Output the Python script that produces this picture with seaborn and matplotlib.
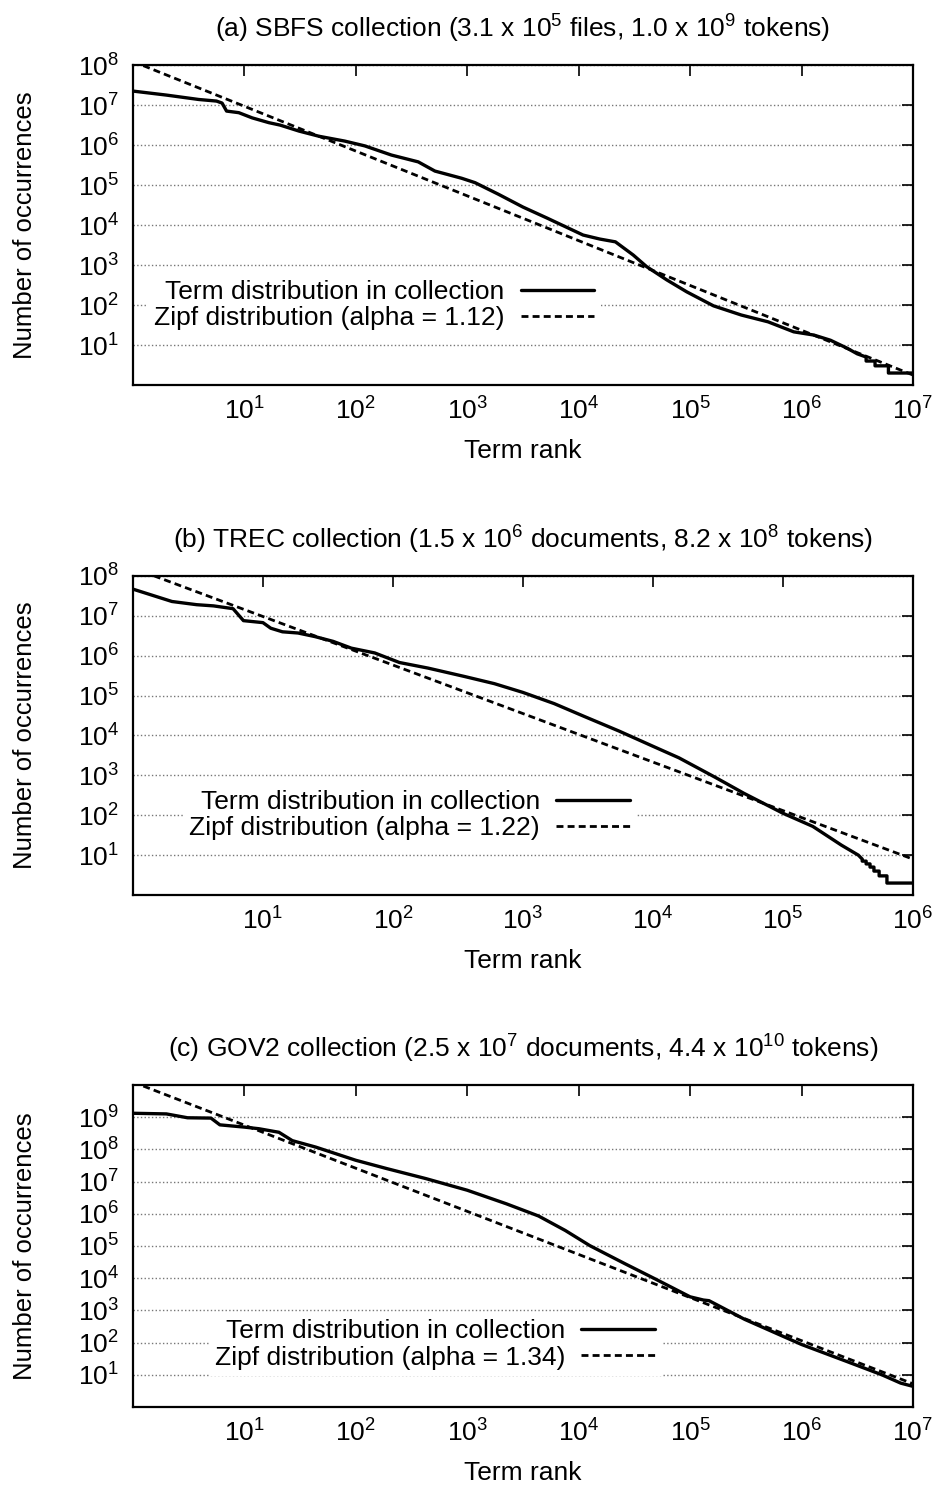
import numpy as np
import pandas as pd
import matplotlib
matplotlib.use('Agg')
import matplotlib.pyplot as plt
import seaborn as sns
from matplotlib.ticker import FixedLocator, LogFormatterSciNotation, NullLocator

# values are log10(term rank) / log10(occurrences)
# (a) SBFS collection
sbfs_rank = [0, 0.30, 0.59, 0.75, 0.80, 0.84, 0.95, 1.07, 1.22, 1.32, 1.49, 1.67, 1.90,
             2.08, 2.32, 2.56, 2.71, 2.95, 3.07, 3.28, 3.50, 3.72, 3.88, 4.04, 4.19,
             4.33, 4.49, 4.61, 4.79, 4.97, 5.21, 5.46, 5.70, 5.93, 6.11, 6.26, 6.41,
             6.50, 6.58, 6.58, 6.66, 6.66, 6.78, 6.78, 7.0]
sbfs_count = [7.35, 7.25, 7.14, 7.10, 7.05, 6.85, 6.81, 6.68, 6.56, 6.50, 6.35, 6.22, 6.10,
              5.98, 5.75, 5.58, 5.35, 5.17, 5.06, 4.77, 4.45, 4.17, 3.96, 3.75, 3.65,
              3.58, 3.25, 2.96, 2.63, 2.33, 1.98, 1.75, 1.58, 1.33, 1.25, 1.12, 0.92,
              0.78, 0.70, 0.60, 0.60, 0.48, 0.48, 0.30, 0.30]
sbfs_zipf_rank = [0, 7]
sbfs_zipf_count = [8.09, 0.25]

# (b) TREC collection
trec_rank = [0, 0.30, 0.49, 0.62, 0.77, 0.85, 1.0, 1.06, 1.15, 1.27, 1.40, 1.54, 1.68,
             1.86, 2.05, 2.27, 2.55, 2.78, 3.0, 3.24, 3.47, 3.74, 4.0, 4.2, 4.48, 4.7,
             5.0, 5.23, 5.45, 5.58, 5.61, 5.61, 5.64, 5.64, 5.67, 5.67, 5.70, 5.70,
             5.74, 5.74, 5.80, 5.80, 6.0]
trec_count = [7.67, 7.36, 7.28, 7.25, 7.18, 6.88, 6.83, 6.69, 6.60, 6.57, 6.48, 6.36, 6.19,
              6.07, 5.83, 5.69, 5.48, 5.30, 5.08, 4.80, 4.48, 4.11, 3.73, 3.44, 2.95, 2.55,
              2.05, 1.72, 1.25, 1.0, 0.90, 0.85, 0.85, 0.78, 0.78, 0.70, 0.70, 0.60,
              0.60, 0.48, 0.48, 0.30, 0.30]
trec_zipf_rank = [0, 6]
trec_zipf_count = [8.20, 0.90]

# (c) GOV2 collection
gov2_rank = [0, 0.30, 0.49, 0.70, 0.78, 1.0, 1.13, 1.31, 1.43, 1.64, 2.0, 2.28, 2.63,
             3.0, 3.35, 3.64, 3.88, 4.1, 4.42, 4.69, 5.0, 5.12, 5.17, 5.49, 6.0, 6.4,
             6.72, 6.89, 7.0]
gov2_count = [9.12, 9.10, 8.98, 8.97, 8.76, 8.69, 8.64, 8.53, 8.27, 8.07, 7.66, 7.40, 7.09,
              6.73, 6.31, 5.93, 5.48, 5.01, 4.44, 3.97, 3.42, 3.32, 3.30, 2.72, 1.94, 1.42,
              1.00, 0.74, 0.64]
gov2_zipf_rank = [0, 7]
gov2_zipf_count = [10.09, 0.72]

titles = ['(a) SBFS collection (3.1 x 10$^{5}$ files, 1.0 x 10$^{9}$ tokens)',
          '(b) TREC collection (1.5 x 10$^{6}$ documents, 8.2 x 10$^{8}$ tokens)',
          '(c) GOV2 collection (2.5 x 10$^{7}$ documents, 4.4 x 10$^{10}$ tokens)']
alphas = ['1.12', '1.22', '1.34']

sns.set_theme(style='white')
plt.rcParams['font.family'] = ['Liberation Sans', 'DejaVu Sans']
plt.rcParams['mathtext.fontset'] = 'custom'
plt.rcParams['mathtext.rm'] = 'Liberation Sans'
plt.rcParams['mathtext.it'] = 'Liberation Sans'
plt.rcParams['mathtext.bf'] = 'Liberation Sans:bold'
plt.rcParams['text.color'] = 'black'
plt.rcParams['axes.labelcolor'] = 'black'
plt.rcParams['axes.titlecolor'] = 'black'

FS = 19

panels = [
    (sbfs_rank, sbfs_count, sbfs_zipf_rank, sbfs_zipf_count, 7, 8, [0.1422, 0.7409, 0.8342, 0.2153], (0.617, 0.25)),
    (trec_rank, trec_count, trec_zipf_rank, trec_zipf_count, 6, 8, [0.1422, 0.3977, 0.8342, 0.2147], (0.662, 0.251)),
    (gov2_rank, gov2_count, gov2_zipf_rank, gov2_zipf_count, 7, 10, [0.1422, 0.0532, 0.8342, 0.2167], (0.695, 0.194)),
]

fig = plt.figure(figsize=(9.35, 14.86), dpi=100)

for i, (r, c, zr, zc, xmax, ymax, pos, leg_at) in enumerate(panels):
    ax = fig.add_axes(pos)
    df = pd.DataFrame({'rank': 10 ** np.array(r), 'count': 10 ** np.array(c)})
    zdf = pd.DataFrame({'rank': 10 ** np.array(zr, dtype=float), 'count': 10 ** np.array(zc)})

    sns.lineplot(data=df, x='rank', y='count', ax=ax, color='black', linewidth=2.4,
                 estimator=None, sort=False, label='Term distribution in collection')
    sns.lineplot(data=zdf, x='rank', y='count', ax=ax, color='black', linewidth=2.0,
                 estimator=None, sort=False, linestyle=(0, (2.5, 1.5)),
                 label='Zipf distribution (alpha = %s)' % alphas[i])

    ax.set_xscale('log')
    ax.set_yscale('log')
    ax.set_xlim(1, 10 ** xmax)
    ax.set_ylim(1, 10 ** ymax)

    top_tick = ymax if ymax == 8 else ymax - 1
    ax.xaxis.set_major_locator(FixedLocator([10.0 ** k for k in range(1, xmax + 1)]))
    ax.yaxis.set_major_locator(FixedLocator([10.0 ** k for k in range(1, top_tick + 1)]))
    ax.xaxis.set_major_formatter(LogFormatterSciNotation())
    ax.yaxis.set_major_formatter(LogFormatterSciNotation())
    ax.xaxis.set_minor_locator(NullLocator())
    ax.yaxis.set_minor_locator(NullLocator())

    ax.tick_params(direction='in', length=8, width=1.2, top=True, right=True,
                   labelsize=FS, colors='black')
    ax.tick_params(axis='x', pad=9)
    ax.tick_params(axis='y', pad=10)

    ax.grid(False)
    ax.yaxis.grid(True, linestyle=':', color='#777777', linewidth=1.0)

    for s in ax.spines.values():
        s.set_color('black')
        s.set_linewidth(1.6)

    ax.set_title(titles[i], fontsize=FS, pad=20)
    ax.set_xlabel('Term rank', fontsize=FS, labelpad=10)
    ax.set_ylabel('Number of occurrences', fontsize=18.5)
    ax.yaxis.set_label_coords(-0.123, 0.5)

    leg = ax.legend(loc='center right', bbox_to_anchor=leg_at, frameon=True,
                    fontsize=FS, markerfirst=False, handlelength=2.8,
                    handletextpad=0.6, labelspacing=0.08, borderpad=0.25,
                    fancybox=False, framealpha=1.0)
    leg.get_frame().set_facecolor('white')
    leg.get_frame().set_edgecolor('none')
    for t in leg.get_texts():
        t.set_color('black')

plt.savefig('out.png', dpi=100)
